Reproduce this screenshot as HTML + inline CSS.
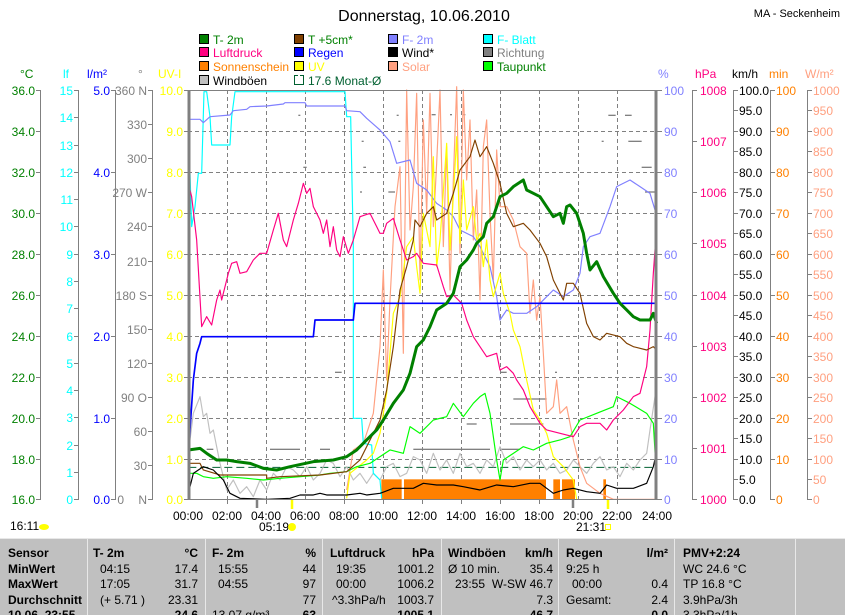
<!DOCTYPE html>
<html><head><meta charset="utf-8"><style>
body{margin:0;background:#fff;width:845px;height:615px;overflow:hidden}
svg{display:block;font-family:"Liberation Sans",sans-serif}
.t{font-size:12px}
</style></head><body>
<svg width="845" height="615" viewBox="0 0 845 615">
<rect width="845" height="615" fill="#fff"/>
<text x="424" y="21" font-size="16" text-anchor="middle">Donnerstag, 10.06.2010</text>
<text x="840" y="17" font-size="11" text-anchor="end">MA - Seckenheim</text>
<g font-size="12">
<rect x="199.5" y="34.5" width="9" height="9" fill="#008000" stroke="#000"/><text x="213" y="44" fill="#008000">T- 2m</text>
<rect x="294.5" y="34.5" width="9" height="9" fill="#804000" stroke="#000"/><text x="308" y="44" fill="#008000">T +5cm*</text>
<rect x="388.5" y="34.5" width="9" height="9" fill="#8080ff" stroke="#000"/><text x="402" y="44" fill="#8080ff">F- 2m</text>
<rect x="483.5" y="34.5" width="9" height="9" fill="#00ffff" stroke="#000"/><text x="497" y="44" fill="#00ffff">F- Blatt</text>
<rect x="199.5" y="47.5" width="9" height="9" fill="#ff0080" stroke="#000"/><text x="213" y="57" fill="#ff0080">Luftdruck</text>
<rect x="294.5" y="47.5" width="9" height="9" fill="#0000ff" stroke="#000"/><text x="308" y="57" fill="#0000ff">Regen</text>
<rect x="388.5" y="47.5" width="9" height="9" fill="#000" stroke="#000"/><text x="402" y="57" fill="#000">Wind*</text>
<rect x="483.5" y="47.5" width="9" height="9" fill="#808080" stroke="#000"/><text x="497" y="57" fill="#808080">Richtung</text>
<rect x="199.5" y="61.5" width="9" height="9" fill="#ff8000" stroke="#000"/><text x="213" y="71" fill="#ff8000">Sonnenschein</text>
<rect x="294.5" y="61.5" width="9" height="9" fill="#ffff00" stroke="#000"/><text x="308" y="71" fill="#ffff00">UV</text>
<rect x="388.5" y="61.5" width="9" height="9" fill="#ffa080" stroke="#000"/><text x="402" y="71" fill="#ffa080">Solar</text>
<rect x="483.5" y="61.5" width="9" height="9" fill="#00ff00" stroke="#000"/><text x="497" y="71" fill="#008000">Taupunkt</text>
<rect x="199.5" y="75.5" width="9" height="9" fill="#c0c0c0" stroke="#000"/><text x="213" y="85" fill="#000">Windböen</text>
<path d="M298 75.5H294.5V84.5H303.5V75.5H300" fill="none" stroke="#006030"/><text x="308" y="85" fill="#006030">17.6 Monat-Ø</text>
</g>
<g font-size="12">
<text x="20" y="78" fill="#008000">°C</text>
<text x="63" y="78" fill="#00ffff">lf</text>
<text x="87" y="78" fill="#0000ff">l/m²</text>
<text x="138" y="78" fill="#808080">°</text>
<text x="158" y="78" fill="#ffff00">UV-I</text>
<text x="658" y="78" fill="#8080ff">%</text>
<text x="695" y="78" fill="#ff0080">hPa</text>
<text x="732" y="78" fill="#000">km/h</text>
<text x="769" y="78" fill="#ff8000">min</text>
<text x="805" y="78" fill="#ffa080">W/m²</text>
</g>
<g stroke="#808080" fill="none">
<path d="M40.5 90V500M78.5 90V500M115.5 90V500M152.5 90V500M692.5 90V500M733.5 90V500M770.5 90V500M807.5 90V500"/>
<path d="M36 90.5h4M36 131.5h4M36 172.5h4M36 213.5h4M36 254.5h4M36 295.5h4M36 336.5h4M36 377.5h4M36 418.5h4M36 459.5h4M36 499.5h4"/>
<path d="M74 90.5h4M74 117.5h4M74 145.5h4M74 172.5h4M74 199.5h4M74 226.5h4M74 254.5h4M74 281.5h4M74 308.5h4M74 336.5h4M74 363.5h4M74 390.5h4M74 417.5h4M74 445.5h4M74 472.5h4M74 499.5h4"/>
<path d="M111 90.5h4M111 172.5h4M111 254.5h4M111 336.5h4M111 418.5h4M111 499.5h4"/>
<path d="M148 90.5h4M148 124.5h4M148 158.5h4M148 192.5h4M148 226.5h4M148 261.5h4M148 295.5h4M148 329.5h4M148 363.5h4M148 397.5h4M148 431.5h4M148 465.5h4M148 499.5h4"/>
<path d="M184 90.5h4M184 131.5h4M184 172.5h4M184 213.5h4M184 254.5h4M184 295.5h4M184 336.5h4M184 377.5h4M184 418.5h4M184 459.5h4M184 499.5h4"/>
<path d="M657 90.5h5M657 131.5h5M657 172.5h5M657 213.5h5M657 254.5h5M657 295.5h5M657 336.5h5M657 377.5h5M657 418.5h5M657 459.5h5M657 499.5h5"/>
<path d="M692 90.5h5M692 141.5h5M692 192.5h5M692 243.5h5M692 295.5h5M692 346.5h5M692 397.5h5M692 448.5h5M692 499.5h5"/>
<path d="M733 90.5h5M733 110.5h5M733 131.5h5M733 151.5h5M733 172.5h5M733 192.5h5M733 213.5h5M733 233.5h5M733 254.5h5M733 274.5h5M733 295.5h5M733 315.5h5M733 336.5h5M733 356.5h5M733 377.5h5M733 397.5h5M733 418.5h5M733 438.5h5M733 459.5h5M733 479.5h5M733 499.5h5"/>
<path d="M770 90.5h5M770 131.5h5M770 172.5h5M770 213.5h5M770 254.5h5M770 295.5h5M770 336.5h5M770 377.5h5M770 418.5h5M770 459.5h5M770 499.5h5"/>
<path d="M807 90.5h5M807 110.5h5M807 131.5h5M807 151.5h5M807 172.5h5M807 192.5h5M807 213.5h5M807 233.5h5M807 254.5h5M807 274.5h5M807 295.5h5M807 315.5h5M807 336.5h5M807 356.5h5M807 377.5h5M807 397.5h5M807 418.5h5M807 438.5h5M807 459.5h5M807 479.5h5M807 499.5h5"/>
</g>
<g class="t" fill="#008000" text-anchor="end">
<text x="35" y="95">36.0</text><text x="35" y="136">34.0</text><text x="35" y="177">32.0</text><text x="35" y="218">30.0</text><text x="35" y="259">28.0</text><text x="35" y="300">26.0</text><text x="35" y="341">24.0</text><text x="35" y="382">22.0</text><text x="35" y="423">20.0</text><text x="35" y="464">18.0</text><text x="35" y="504">16.0</text>
</g>
<g class="t" fill="#00ffff" text-anchor="end">
<text x="73" y="95">15</text><text x="73" y="122">14</text><text x="73" y="150">13</text><text x="73" y="177">12</text><text x="73" y="204">11</text><text x="73" y="231">10</text><text x="73" y="259">9</text><text x="73" y="286">8</text><text x="73" y="313">7</text><text x="73" y="341">6</text><text x="73" y="368">5</text><text x="73" y="395">4</text><text x="73" y="422">3</text><text x="73" y="450">2</text><text x="73" y="477">1</text><text x="73" y="504">0</text>
</g>
<g class="t" fill="#0000ff" text-anchor="end">
<text x="110" y="95">5.0</text><text x="110" y="177">4.0</text><text x="110" y="259">3.0</text><text x="110" y="341">2.0</text><text x="110" y="423">1.0</text><text x="110" y="504">0.0</text>
</g>
<g class="t" fill="#808080" text-anchor="end">
<text x="147" y="95">360 N</text><text x="147" y="129">330</text><text x="147" y="163">300</text><text x="147" y="197">270 W</text><text x="147" y="231">240</text><text x="147" y="266">210</text><text x="147" y="300">180 S</text><text x="147" y="334">150</text><text x="147" y="368">120</text><text x="147" y="402">90 O</text><text x="147" y="436">60</text><text x="147" y="470">30</text><text x="147" y="504">N</text><text x="124" y="504">0</text>
</g>
<g class="t" fill="#ffff00" text-anchor="end">
<text x="183" y="95">10.0</text><text x="183" y="136">9.0</text><text x="183" y="177">8.0</text><text x="183" y="218">7.0</text><text x="183" y="259">6.0</text><text x="183" y="300">5.0</text><text x="183" y="341">4.0</text><text x="183" y="382">3.0</text><text x="183" y="423">2.0</text><text x="183" y="464">1.0</text><text x="183" y="504">0.0</text>
</g>
<g class="t" fill="#8080ff">
<text x="664" y="95">100</text><text x="664" y="136">90</text><text x="664" y="177">80</text><text x="664" y="218">70</text><text x="664" y="259">60</text><text x="664" y="300">50</text><text x="664" y="341">40</text><text x="664" y="382">30</text><text x="664" y="423">20</text><text x="664" y="464">10</text><text x="664" y="504">0</text>
</g>
<g class="t" fill="#ff0080">
<text x="700" y="95">1008</text><text x="700" y="146">1007</text><text x="700" y="197">1006</text><text x="700" y="248">1005</text><text x="700" y="300">1004</text><text x="700" y="351">1003</text><text x="700" y="402">1002</text><text x="700" y="453">1001</text><text x="700" y="504">1000</text>
</g>
<g class="t" fill="#000">
<text x="739" y="95">100.0</text><text x="739" y="115">95.0</text><text x="739" y="136">90.0</text><text x="739" y="156">85.0</text><text x="739" y="177">80.0</text><text x="739" y="197">75.0</text><text x="739" y="218">70.0</text><text x="739" y="238">65.0</text><text x="739" y="259">60.0</text><text x="739" y="279">55.0</text><text x="739" y="300">50.0</text><text x="739" y="320">45.0</text><text x="739" y="341">40.0</text><text x="739" y="361">35.0</text><text x="739" y="382">30.0</text><text x="739" y="402">25.0</text><text x="739" y="423">20.0</text><text x="739" y="443">15.0</text><text x="739" y="464">10.0</text><text x="739" y="484">5.0</text><text x="739" y="504">0.0</text>
</g>
<g class="t" fill="#ff8000">
<text x="776" y="95">100</text><text x="776" y="136">90</text><text x="776" y="177">80</text><text x="776" y="218">70</text><text x="776" y="259">60</text><text x="776" y="300">50</text><text x="776" y="341">40</text><text x="776" y="382">30</text><text x="776" y="423">20</text><text x="776" y="464">10</text><text x="776" y="504">0</text>
</g>
<g class="t" fill="#ffa080">
<text x="813" y="95">1000</text><text x="813" y="115">950</text><text x="813" y="136">900</text><text x="813" y="156">850</text><text x="813" y="177">800</text><text x="813" y="197">750</text><text x="813" y="218">700</text><text x="813" y="238">650</text><text x="813" y="259">600</text><text x="813" y="279">550</text><text x="813" y="300">500</text><text x="813" y="320">450</text><text x="813" y="341">400</text><text x="813" y="361">350</text><text x="813" y="382">300</text><text x="813" y="402">250</text><text x="813" y="423">200</text><text x="813" y="443">150</text><text x="813" y="464">100</text><text x="813" y="484">50</text><text x="813" y="504">0</text>
</g>
<path d="M227.5 90V500M266.5 90V500M305.5 90V500M344.5 90V500M383.5 90V500M422.5 90V500M461.5 90V500M500.5 90V500M539.5 90V500M578.5 90V500M617.5 90V500M188 131.5H657M188 172.5H657M188 213.5H657M188 254.5H657M188 295.5H657M188 336.5H657M188 377.5H657M188 418.5H657M188 459.5H657" stroke="#808080" stroke-dasharray="4,3" fill="none"/>
<g transform="translate(180,80) scale(0.33333)" fill="none" stroke-linejoin="round">
<g fill="#ff8000"><rect x="604" y="1198" width="61" height="60"/><rect x="672" y="1198" width="426" height="60"/><rect x="1120" y="1198" width="20" height="60"/><rect x="1146" y="1198" width="39" height="60"/><rect x="1270" y="1198" width="8" height="60"/></g>
<path d="M25 1162H1430" stroke="#006030" stroke-width="3" stroke-dasharray="24,12"/>
<g fill="#808080"><rect x="355" y="104" width="6" height="4"/><rect x="650" y="104" width="6" height="4"/><rect x="755" y="102" width="12" height="4"/><rect x="810" y="102" width="6" height="4"/><rect x="850" y="102" width="6" height="4"/><rect x="545" y="182" width="6" height="4"/><rect x="655" y="182" width="6" height="4"/><rect x="1285" y="104" width="22" height="4"/><rect x="1335" y="104" width="20" height="4"/><rect x="1265" y="182" width="6" height="4"/><rect x="1345" y="182" width="40" height="4"/><rect x="370" y="260" width="10" height="4"/><rect x="550" y="260" width="8" height="4"/><rect x="1385" y="260" width="30" height="4"/><rect x="540" y="334" width="6" height="4"/><rect x="625" y="334" width="20" height="4"/><rect x="1395" y="334" width="30" height="4"/><rect x="465" y="875" width="20" height="4"/><rect x="960" y="875" width="20" height="4"/><rect x="1125" y="875" width="6" height="4"/><rect x="1000" y="955" width="100" height="4"/><rect x="990" y="1030" width="100" height="4"/><rect x="860" y="1030" width="30" height="4"/><rect x="80" y="1106" width="20" height="4"/><rect x="270" y="1106" width="90" height="4"/><rect x="420" y="1106" width="30" height="4"/><rect x="700" y="1106" width="230" height="4"/><rect x="960" y="1106" width="60" height="4"/></g>
<polyline stroke="#c0c0c0" stroke-width="3.5" points="25,1120 40,1000 60,950 70,1010 80,1000 90,1060 100,1050 120,1150 140,1230 160,1200 180,1240 200,1220 220,1250 240,1200 260,1230 280,1180 300,1200 320,1160 340,1170 360,1190 380,1160 400,1200 420,1180 440,1140 460,1150 480,1190 500,1160 520,1200 540,1180 560,1210 580,1180 600,1200 620,1160 640,1150 660,1190 680,1180 700,1130 720,1140 740,1180 760,1120 780,1170 800,1140 820,1180 840,1120 860,1160 880,1150 900,1180 920,1140 940,1160 960,1100 980,1150 1000,1130 1020,1170 1040,1140 1060,1160 1080,1140 1100,1170 1120,1150 1140,1180 1160,1170 1180,1140 1200,1160 1220,1180 1240,1150 1260,1130 1280,1170 1300,1160 1320,1190 1340,1150 1360,1170 1380,1140 1400,1120 1410,1050 1425,950 1430,960"/>
<polyline stroke="#ffa080" stroke-width="3.5" points="500,1230 520,1110 550,1090 580,1000 600,800 610,570 620,900 630,660 645,380 660,260 670,820 680,30 690,450 700,320 710,40 720,600 730,120 740,400 750,40 760,440 770,250 780,30 790,500 800,200 810,630 820,300 830,20 840,520 850,30 860,300 870,120 880,480 890,330 900,660 910,200 920,120 930,400 940,600 950,210 960,380 980,380 1000,420 1020,500 1040,520 1050,700 1060,600 1070,720 1080,650 1090,820 1100,1000 1120,980 1130,900 1140,1000 1160,980 1180,1080 1200,1160 1220,1210 1260,1240 1300,1258 1430,1258"/>
<polyline stroke="#00ffff" stroke-width="3.5" points="25,280 30,280 35,440 45,380 55,280 65,280 72,35 80,35 90,110 95,195 150,195 155,110 165,35 495,35 500,110 512,110 520,500 520,1015 545,1015 550,1090 575,1095 580,1180 600,1200 605,1255"/>
<polyline stroke="#8080ff" stroke-width="3.5" points="25,118 60,118 70,128 90,110 150,105 160,92 200,88 210,80 260,78 310,72 315,68 375,68 380,78 495,78 500,92 540,95 560,115 600,150 630,185 650,250 690,240 710,310 740,330 770,370 800,390 820,410 840,450 880,470 900,500 930,560 950,650 960,720 980,690 1000,700 1040,700 1070,680 1100,650 1120,630 1150,650 1180,630 1200,580 1210,500 1230,470 1260,460 1290,380 1310,320 1350,300 1380,320 1410,340 1428,400 1430,500"/>
<polyline stroke="#ffff00" stroke-width="3.5" points="500,1255 510,1180 560,1140 580,1120 600,1060 620,940 640,700 660,650 680,500 700,470 710,560 720,640 730,400 750,500 760,230 770,560 780,480 800,190 810,510 820,350 830,170 840,490 850,300 860,450 880,380 890,480 900,460 910,560 920,480 930,600 940,650 960,580 970,640 990,700 1000,750 1020,800 1030,850 1040,900 1060,990 1080,1020 1100,1060 1120,1130 1150,1160 1180,1200 1190,1258"/>
<polyline stroke="#00ff00" stroke-width="3.5" points="25,1180 50,1180 70,1190 100,1195 140,1190 200,1195 250,1200 300,1195 420,1185 450,1180 500,1175 530,1160 570,1150 600,1130 630,1110 670,1120 690,1040 720,1060 760,1020 800,1010 820,970 850,1010 880,970 900,950 915,940 930,1000 950,1140 960,1200 970,1140 1000,1120 1030,1100 1060,1110 1100,1090 1140,1080 1170,1070 1200,1020 1250,1000 1300,980 1310,950 1350,970 1400,1000 1420,1030 1430,1200"/>
<polyline stroke="#ff0080" stroke-width="3.5" points="25,310 35,350 50,480 65,740 80,710 95,735 110,660 120,630 125,660 145,580 155,550 170,545 180,580 200,575 220,540 240,520 260,520 280,450 295,400 310,480 320,500 340,420 355,370 370,310 380,340 390,325 400,380 420,420 430,460 440,420 450,500 460,440 470,510 480,530 490,470 505,520 520,480 540,410 570,400 590,440 600,460 610,460 620,430 640,415 660,480 680,540 700,530 710,520 730,550 770,555 790,620 800,650 820,645 845,670 860,720 880,770 900,800 920,830 950,820 960,870 980,860 1000,880 1010,900 1030,930 1050,980 1080,1030 1100,1050 1140,1060 1180,1070 1200,1040 1220,1030 1260,1030 1280,1050 1300,1020 1330,990 1360,950 1380,940 1400,860 1410,750 1420,580 1430,440"/>
<polyline stroke="#804000" stroke-width="3.5" points="25,1150 60,1150 70,1170 120,1185 260,1185 260,1195 300,1190 420,1185 500,1175 540,1140 570,1080 600,1020 620,930 640,800 660,630 680,560 700,480 705,420 720,440 740,400 760,380 770,420 800,400 820,340 840,270 870,230 885,180 900,230 920,200 940,250 960,310 980,400 1000,440 1030,430 1050,450 1080,490 1100,530 1120,600 1150,660 1160,610 1180,610 1200,640 1220,730 1240,770 1260,780 1280,760 1320,770 1340,790 1360,800 1400,810 1420,800 1430,810"/>
<polyline stroke="#0000ff" stroke-width="5" points="25,1180 30,1050 40,900 50,820 60,790 65,770 400,770 405,720 520,720 525,670 1430,670"/>
<polyline stroke="#000" stroke-width="3.5" points="25,1240 40,1180 70,1160 100,1170 130,1200 150,1240 180,1255 260,1258 330,1255 360,1245 400,1245 420,1240 440,1245 500,1245 540,1240 560,1245 600,1240 640,1225 700,1225 730,1210 770,1215 820,1215 850,1220 900,1230 950,1215 1000,1220 1050,1210 1080,1210 1100,1225 1120,1240 1150,1230 1180,1225 1220,1235 1260,1240 1280,1215 1310,1225 1360,1225 1400,1210 1420,1160 1430,1115"/>
<polyline stroke="#008000" stroke-width="9" points="25,1110 60,1105 80,1120 110,1140 140,1140 170,1145 210,1150 250,1165 290,1170 330,1160 400,1145 460,1140 500,1130 530,1110 560,1080 590,1050 610,1020 640,970 670,930 690,880 710,800 730,780 750,740 770,690 800,670 820,640 840,560 860,540 880,510 890,490 910,470 920,430 940,410 960,350 980,340 1000,320 1030,300 1040,330 1060,340 1080,350 1100,380 1120,410 1140,400 1150,430 1160,380 1170,375 1190,400 1210,460 1220,520 1230,570 1250,545 1270,590 1300,640 1320,670 1340,690 1360,710 1380,720 1410,720 1420,700 1430,730"/>
</g>
<path d="M188 90.5H657M188 499.5H657" stroke="#808080" stroke-width="1"/>
<path d="M189 90V500M656 90V500" stroke="#808080" stroke-width="3"/>
<path d="M227.5 500v4M266.5 500v4M344.5 500v4M383.5 500v4M422.5 500v4M461.5 500v4M500.5 500v4M539.5 500v4M617.5 500v4" stroke="#808080"/>
<path d="M257 500v8M573 500v8" stroke="#808080" stroke-width="2.5"/>
<path d="M292 500v9M608 500v9" stroke="#ffff00" stroke-width="2.5"/>
<g class="t" text-anchor="middle">
<text x="188" y="520">00:00</text><text x="227" y="520">02:00</text><text x="266" y="520">04:00</text><text x="305" y="520">06:00</text><text x="344" y="520">08:00</text><text x="383" y="520">10:00</text><text x="422" y="520">12:00</text><text x="461" y="520">14:00</text><text x="500" y="520">16:00</text><text x="539" y="520">18:00</text><text x="578" y="520">20:00</text><text x="617" y="520">22:00</text><text x="657" y="520">24:00</text>
</g>
<text class="t" x="259" y="531">05:19</text><circle cx="292" cy="527" r="4" fill="#ffff00"/>
<text class="t" x="576" y="531">21:31</text><rect x="605.5" y="524.5" width="5" height="5" fill="none" stroke="#ffff00"/>
<text class="t" x="10" y="530">16:11</text><ellipse cx="44" cy="527" rx="5" ry="3" fill="#ffff00"/>
<rect x="0" y="538" width="845" height="77" fill="#c0c0c0"/>
<path d="M0 538.5H845" stroke="#e8e8e8"/>
<path d="M87.5 538V615M205.5 538V615M322.5 538V615M441.5 538V615M558.5 538V615M674.5 538V615M795.5 538V615" stroke="#e8e8e8"/>
<g font-size="12" font-weight="bold">
<text x="8" y="557">Sensor</text><text x="8" y="573">MinWert</text><text x="8" y="588">MaxWert</text><text x="8" y="604">Durchschnitt</text><text x="8" y="619">10.06. 23:55</text>
<text x="93" y="557">T- 2m</text><text x="198" y="557" text-anchor="end">°C</text>
<text x="212" y="557">F- 2m</text><text x="316" y="557" text-anchor="end">%</text>
<text x="330" y="557">Luftdruck</text><text x="434" y="557" text-anchor="end">hPa</text>
<text x="448" y="557">Windböen</text><text x="553" y="557" text-anchor="end">km/h</text>
<text x="566" y="557">Regen</text><text x="668" y="557" text-anchor="end">l/m²</text>
<text x="683" y="557">PMV+2:24</text>
<text x="198" y="619" text-anchor="end">24.6</text><text x="316" y="619" text-anchor="end">63</text><text x="434" y="619" text-anchor="end">1005.1</text><text x="553" y="619" text-anchor="end">46.7</text><text x="668" y="619" text-anchor="end">0.0</text>
</g>
<g font-size="12">
<text x="100" y="573">04:15</text><text x="198" y="573" text-anchor="end">17.4</text>
<text x="100" y="588">17:05</text><text x="198" y="588" text-anchor="end">31.7</text>
<text x="100" y="604">(+ 5.71 )</text><text x="198" y="604" text-anchor="end">23.31</text>
<text x="218" y="573">15:55</text><text x="316" y="573" text-anchor="end">44</text>
<text x="218" y="588">04:55</text><text x="316" y="588" text-anchor="end">97</text>
<text x="316" y="604" text-anchor="end">77</text>
<text x="336" y="573">19:35</text><text x="434" y="573" text-anchor="end">1001.2</text>
<text x="336" y="588">00:00</text><text x="434" y="588" text-anchor="end">1006.2</text>
<text x="332" y="604">^3.3hPa/h</text><text x="434" y="604" text-anchor="end">1003.7</text>
<text x="448" y="573">Ø 10 min.</text><text x="553" y="573" text-anchor="end">35.4</text>
<text x="455" y="588">23:55</text><text x="553" y="588" text-anchor="end">W-SW 46.7</text>
<text x="553" y="604" text-anchor="end">7.3</text>
<text x="566" y="573">9:25 h</text>
<text x="572" y="588">00:00</text><text x="668" y="588" text-anchor="end">0.4</text>
<text x="566" y="604">Gesamt:</text><text x="668" y="604" text-anchor="end">2.4</text>
<text x="683" y="573">WC 24.6 °C</text><text x="683" y="588">TP 16.8 °C</text><text x="683" y="604">3.9hPa/3h</text>
<text x="212" y="619">13.07 g/m³</text><text x="683" y="619">3.3hPa/1h</text>
</g>
</svg>
</body></html>
